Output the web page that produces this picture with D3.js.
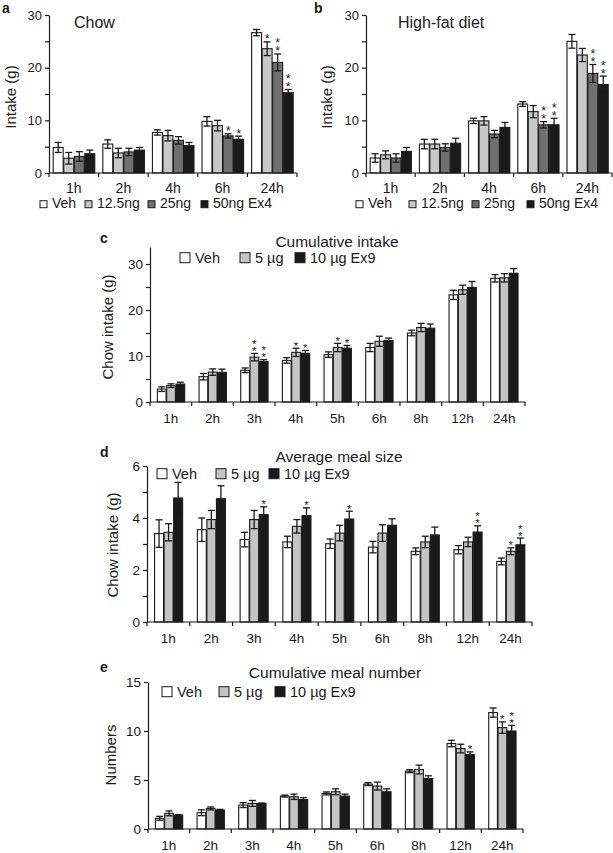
<!DOCTYPE html>
<html><head><meta charset="utf-8">
<script src="https://cdn.jsdelivr.net/npm/d3@7"></script>
<style>
body{margin:0;background:#fff;}
text{font-family:"Liberation Sans",Arial,Helvetica,sans-serif;fill:#1a1a1a;}
</style></head>
<body><svg id="chart" width="613" height="853"></svg>
<script>
// ---------- DATA ----------
const timesAB = ["1h","2h","4h","6h","24h"];
const groupsAB = ["Veh","12.5ng","25ng","50ng Ex4"];
// Panel a: Chow
const chowVeh = [4.85,5.5,7.7,9.8,26.65];
const chowVehErr = [0.95,0.8,0.5,0.9,0.6];
const chowVehStars = [0,0,0,0,0];
const chow12 = [2.8,3.8,7.1,9.0,23.6];
const chow12Err = [1.1,0.9,1.0,1.0,1.3];
const chow12Stars = [0,0,0,0,1];
const chow25 = [3.15,4.0,6.2,7.05,21.0];
const chow25Err = [0.9,0.7,0.7,0.4,1.6];
const chow25Stars = [0,0,0,1,2];
const chow50 = [3.65,4.35,5.2,6.4,15.25];
const chow50Err = [0.7,0.5,0.6,0.6,0.6];
const chow50Stars = [0,0,0,1,2];
// Panel b: High-fat diet
const hfdVeh = [2.85,5.5,9.9,13.1,25.0];
const hfdVehErr = [0.8,0.9,0.5,0.45,1.3];
const hfdVehStars = [0,0,0,0,0];
const hfd12 = [3.45,5.5,9.9,11.65,22.4];
const hfd12Err = [0.75,0.9,0.8,1.15,1.25];
const hfd12Stars = [0,0,0,0,0];
const hfd25 = [2.85,4.85,7.4,9.15,18.9];
const hfd25Err = [0.8,0.7,0.7,0.6,1.7];
const hfd25Stars = [0,0,0,2,2];
const hfd50 = [4.1,5.65,8.65,9.15,16.8];
const hfd50Err = [0.75,0.95,0.95,1.25,1.6];
const hfd50Stars = [0,0,0,2,2];

const timesCDE = ["1h","2h","3h","4h","5h","6h","8h","12h","24h"];
const groupsCDE = ["Veh","5 µg","10 µg Ex9"];
// Panel c: Cumulative intake
const cumVeh = [2.8,5.5,6.9,9.05,10.3,11.85,15.0,23.3,26.9];
const cumVehErr = [0.5,0.7,0.5,0.6,0.6,0.9,0.6,1.0,0.8];
const cumVehStars = [0,0,0,0,0,0,0,0,0];
const cum5 = [3.55,6.5,9.75,10.8,11.85,13.2,16.2,24.4,27.0];
const cum5Err = [0.4,0.7,0.8,0.9,0.9,1.1,0.9,1.0,0.9];
const cum5Stars = [0,0,2,1,1,0,0,0,0];
const cum10 = [3.9,6.45,8.8,10.6,11.7,13.4,16.05,24.9,28.0];
const cum10Err = [0.4,0.7,0.4,0.6,0.6,0.5,0.9,1.3,1.0];
const cum10Stars = [0,0,2,1,1,0,0,0,0];
// Panel d: Average meal size
const msVeh = [3.4,3.55,3.17,3.08,3.01,2.88,2.72,2.78,2.33];
const msVehErr = [0.53,0.45,0.28,0.22,0.18,0.22,0.13,0.16,0.13];
const msVehStars = [0,0,0,0,0,0,0,0,0];
const ms5 = [3.45,3.94,3.94,3.68,3.42,3.42,3.08,3.08,2.72];
const ms5Err = [0.33,0.35,0.35,0.26,0.3,0.32,0.22,0.18,0.13];
const ms5Stars = [0,0,0,0,0,0,0,0,1];
const ms10 = [4.77,4.74,4.13,4.09,3.96,3.72,3.35,3.46,2.97];
const ms10Err = [0.6,0.5,0.3,0.3,0.3,0.25,0.3,0.24,0.26];
const ms10Stars = [0,0,1,1,1,0,0,2,2];
// Panel e: Cumulative meal number
const mnVeh = [1.09,1.66,2.44,3.36,3.63,4.58,5.9,8.72,11.88];
const mnVehErr = [0.2,0.3,0.25,0.1,0.15,0.15,0.15,0.33,0.47];
const mnVehStars = [0,0,0,0,0,0,0,0,0];
const mn5 = [1.6,2.1,2.61,3.29,3.8,4.38,6.07,8.21,10.35];
const mn5Err = [0.25,0.15,0.3,0.27,0.3,0.4,0.45,0.44,0.58];
const mn5Stars = [0,0,0,0,0,0,0,0,1];
const mn10 = [1.42,1.93,2.6,3.0,3.36,3.8,5.16,7.6,10.0];
const mn10Err = [0.05,0.07,0.05,0.2,0.2,0.3,0.27,0.27,0.58];
const mn10Stars = [0,0,0,0,0,0,0,1,2];

// ---------- DRAW ----------
const svg = d3.select("#chart");
const fills4 = ["#ffffff","#c8c8c8","#707070","#1a1a1a"];
const fills3 = ["#ffffff","#c4c4c4","#1a1a1a"];

function panel(o){
  const g = svg.append("g");
  const x = d3.scaleBand().domain(o.cats).range([o.x0,o.x1]).paddingInner(0).paddingOuter(0);
  const y = d3.scaleLinear().domain([0,o.ymax]).range([o.y0,o.yTop]);
  const gw = x.bandwidth()*o.groupFrac;
  const xs = d3.scaleBand().domain(d3.range(o.series.length)).range([0,gw]).padding(0);
  const off = (x.bandwidth()-gw)/2;

  // y axis
  const ya = d3.axisLeft(y).tickValues(o.allTicks).tickSize(4).tickSizeOuter(0).tickPadding(3)
     .tickFormat(d => o.labTicks.includes(d) ? d : "");
  const yg = g.append("g").attr("transform",`translate(${o.x0},0)`).call(ya);
  yg.selectAll("path,line").attr("stroke","#1a1a1a").attr("stroke-width",1.2);
  yg.selectAll("text").style("font-size",o.tickFont+"px").style("font-family","Liberation Sans, Arial, sans-serif").attr("fill","#1a1a1a");

  // bars
  o.series.forEach((s,si)=>{
    const sg = g.append("g");
    const data = o.cats.map((c,i)=>({c, v:s.vals[i], e:s.errs[i], st:s.stars[i]}));
    sg.selectAll("rect").data(data).join("rect")
      .attr("x",d=>x(d.c)+off+xs(si)+0.5)
      .attr("y",d=>y(d.v))
      .attr("width",xs.bandwidth()-0.6)
      .attr("height",d=>o.y0-y(d.v))
      .attr("fill",s.fill).attr("stroke","#1a1a1a").attr("stroke-width",1.1);
    const cx = d=>x(d.c)+off+xs(si)+xs.bandwidth()/2+0.2;
    const cap = o.cap;
    const eg = sg.selectAll("g.err").data(data).join("g").attr("class","err");
    eg.append("line").attr("x1",cx).attr("x2",cx).attr("y1",d=>y(d.v-d.e)).attr("y2",d=>y(d.v+d.e));
    eg.append("line").attr("x1",d=>cx(d)-cap).attr("x2",d=>cx(d)+cap).attr("y1",d=>y(d.v+d.e)).attr("y2",d=>y(d.v+d.e));
    eg.append("line").attr("x1",d=>cx(d)-cap).attr("x2",d=>cx(d)+cap).attr("y1",d=>y(d.v-d.e)).attr("y2",d=>y(d.v-d.e));
    eg.selectAll("line").attr("stroke","#1a1a1a").attr("stroke-width",1.3);
    data.filter(d=>d.st>0).forEach(d=>{
      const t = g.append("text").attr("text-anchor","middle").style("font-size",o.starFont+"px");
      const base = y(d.v+d.e)+1.5;
      for(let k=d.st-1;k>=0;k--){
        t.append("tspan").attr("x",cx(d)).attr("y",base-k*o.starGap).text("*");
      }
    });
  });

  // x axis
  const xg = g.append("g");
  xg.append("line").attr("x1",o.x0).attr("x2",o.x1).attr("y1",o.y0).attr("y2",o.y0)
    .attr("stroke","#1a1a1a").attr("stroke-width",1.2);
  const bounds = o.cats.map(c=>x(c)).concat([o.x1]);
  xg.selectAll("line.t").data(bounds).join("line").attr("class","t")
    .attr("x1",d=>d).attr("x2",d=>d).attr("y1",o.y0).attr("y2",o.y0+4)
    .attr("stroke","#1a1a1a").attr("stroke-width",1.2);
  xg.selectAll("text").data(o.cats).join("text")
    .attr("x",d=>x(d)+x.bandwidth()/2+o.catDx).attr("y",o.y0+o.catDy)
    .attr("text-anchor","middle").style("font-size",o.catFont+"px").text(d=>d);

  // y label
  g.append("text").attr("transform",`translate(${o.ylab[0]},${o.ylab[1]}) rotate(-90)`)
    .attr("text-anchor","middle").attr("dominant-baseline","central")
    .style("font-size",o.ylabFont+"px").text(o.ylabel);
  // title
  g.append("text").attr("x",o.title[0]).attr("y",o.title[1]).attr("text-anchor",o.titleAnchor||"start")
    .style("font-size",o.titleFont+"px").text(o.titleText);
  // panel letter
  g.append("text").attr("x",o.letter[0]).attr("y",o.letter[1]).style("font-size","14px")
    .style("font-weight","bold").text(o.letterText);
  // legend
  o.legend.forEach((lx,i)=>{
    g.append("rect").attr("x",lx).attr("y",o.legY-o.sw-(o.legFont*0.02)).attr("width",o.sw).attr("height",o.sw)
      .attr("fill",o.series[i].fill).attr("stroke","#1a1a1a").attr("stroke-width",1);
    g.append("text").attr("x",lx+o.sw+o.legGap).attr("y",o.legY).style("font-size",o.legFont+"px").text(o.groups[i]);
  });
}

const abCommon = {cats:timesAB, groups:groupsAB, yTop:15, y0:173, ymax:30, allTicks:[0,5,10,15,20,25,30], labTicks:[0,10,20,30],
  groupFrac:0.85, tickFont:13, catFont:14, catDx:0, catDy:20, cap:3.5, starFont:12.5, starGap:8, ylabFont:15, titleFont:16,
  sw:7, legGap:5, legFont:14, legY:208};

panel(Object.assign({}, abCommon, {
  x0:49, x1:297,
  series:[
    {vals:chowVeh, errs:chowVehErr, stars:chowVehStars, fill:fills4[0]},
    {vals:chow12, errs:chow12Err, stars:chow12Stars, fill:fills4[1]},
    {vals:chow25, errs:chow25Err, stars:chow25Stars, fill:fills4[2]},
    {vals:chow50, errs:chow50Err, stars:chow50Stars, fill:fills4[3]}],
  ylab:[10,97], ylabel:"Intake (g)", title:[74,28], titleText:"Chow",
  letter:[2,13], letterText:"a", legend:[40,85,148,201]
}));
panel(Object.assign({}, abCommon, {
  x0:366, x1:612,
  series:[
    {vals:hfdVeh, errs:hfdVehErr, stars:hfdVehStars, fill:fills4[0]},
    {vals:hfd12, errs:hfd12Err, stars:hfd12Stars, fill:fills4[1]},
    {vals:hfd25, errs:hfd25Err, stars:hfd25Stars, fill:fills4[2]},
    {vals:hfd50, errs:hfd50Err, stars:hfd50Stars, fill:fills4[3]}],
  ylab:[326,97], ylabel:"Intake (g)", title:[398,28], titleText:"High-fat diet",
  letter:[314,13], letterText:"b", legend:[356,409,472,527]
}));

const cdeCommon = {cats:timesCDE, groups:groupsCDE, groupFrac:0.67, tickFont:13.5, catFont:13.5, catDx:0, catDy:21,
  cap:3.5, starFont:11.5, starGap:7, ylabFont:15, titleFont:15.5, titleAnchor:"middle", sw:10, legGap:5, legFont:14.5};

panel(Object.assign({}, cdeCommon, {
  x0:150, x1:525, y0:402, yTop:247, ymax:33.7, allTicks:[0,5,10,15,20,25,30], labTicks:[0,10,20,30],
  series:[
    {vals:cumVeh, errs:cumVehErr, stars:cumVehStars, fill:fills3[0]},
    {vals:cum5, errs:cum5Err, stars:cum5Stars, fill:fills3[1]},
    {vals:cum10, errs:cum10Err, stars:cum10Stars, fill:fills3[2]}],
  ylab:[107,327], ylabel:"Chow intake (g)", title:[337,247], titleText:"Cumulative intake",
  letter:[100,243], letterText:"c", legend:[180,240,295], legY:263
}));
panel(Object.assign({}, cdeCommon, {
  x0:147, x1:532, y0:622, yTop:466, ymax:6, allTicks:[0,1,2,3,4,5,6], labTicks:[0,2,4,6],
  series:[
    {vals:msVeh, errs:msVehErr, stars:msVehStars, fill:fills3[0]},
    {vals:ms5, errs:ms5Err, stars:ms5Stars, fill:fills3[1]},
    {vals:ms10, errs:ms10Err, stars:ms10Stars, fill:fills3[2]}],
  ylab:[112,545], ylabel:"Chow intake (g)", title:[339,462], titleText:"Average meal size",
  letter:[100,457], letterText:"d", legend:[157,216,269], legY:479
}));
panel(Object.assign({}, cdeCommon, {
  x0:148, x1:523, y0:829, yTop:682, ymax:15, allTicks:[0,5,10,15], labTicks:[0,5,10,15],
  series:[
    {vals:mnVeh, errs:mnVehErr, stars:mnVehStars, fill:fills3[0]},
    {vals:mn5, errs:mn5Err, stars:mn5Stars, fill:fills3[1]},
    {vals:mn10, errs:mn10Err, stars:mn10Stars, fill:fills3[2]}],
  ylab:[110,755], ylabel:"Numbers", title:[335,678], titleText:"Cumulative meal number",
  letter:[100,672], letterText:"e", legend:[162,219,275], legY:697
}));
</script></body></html>
